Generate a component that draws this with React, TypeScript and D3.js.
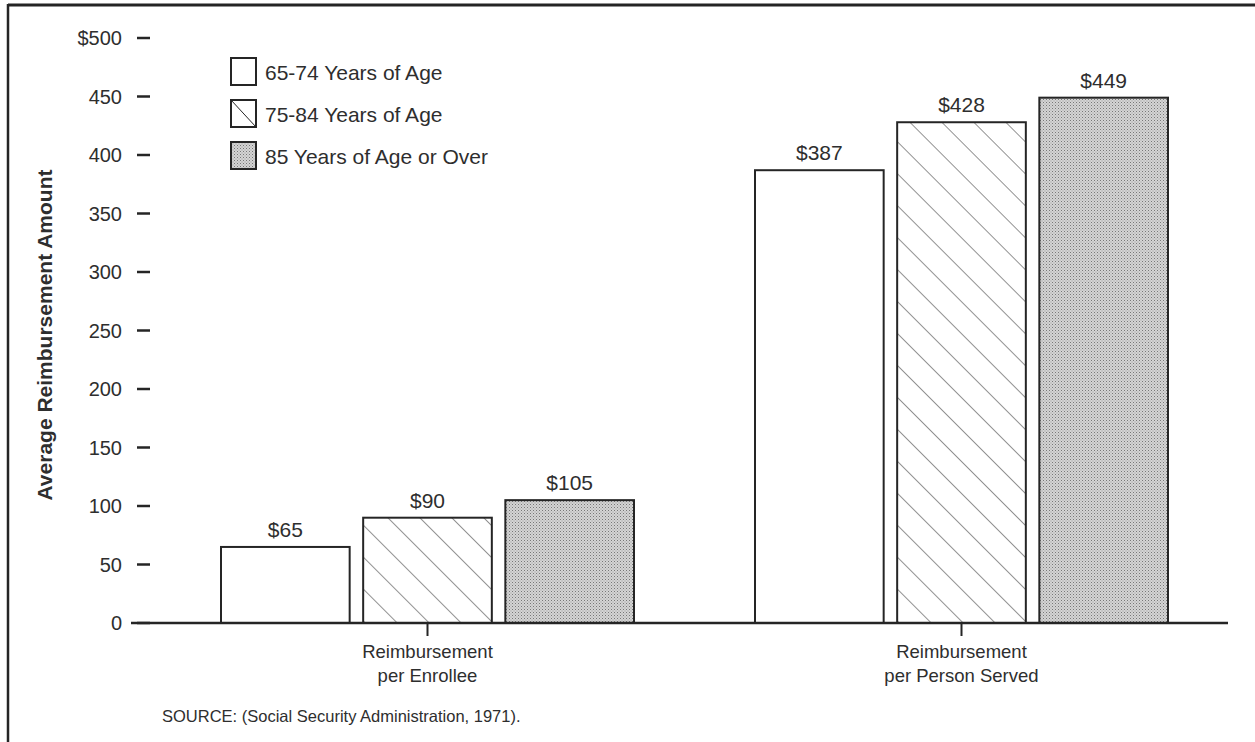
import React from 'react';
import * as d3 from 'd3';

const categories = ['Reimbursement\nper Enrollee', 'Reimbursement\nper Person Served'];
const series = ['65-74 Years of Age', '75-84 Years of Age', '85 Years of Age or Over'];
const age65to74 = [65, 387];
const age75to84 = [90, 428];
const age85plus = [105, 449];
const yTicks = [0, 50, 100, 150, 200, 250, 300, 350, 400, 450, 500];

const W = 1255;
const H = 742;
const ink = '#252525';
const txt = '#2e2e2e';
const font = 'Liberation Sans, Arial, Helvetica, sans-serif';

const fills = ['#fff', 'url(#hatch)', 'url(#stipple)'];

export default function App() {
  const y = d3.scaleLinear().domain([0, 500]).range([623, 38]);
  const x0 = d3.scaleBand<string>().domain(categories).range([160.5, 1228.5]).paddingInner(0.2266).paddingOuter(0.1133);
  const x1 = d3.scaleBand<string>().domain(series).range([0, x0.bandwidth()]).paddingInner(0.095);
  const values = [age65to74, age75to84, age85plus];

  return (
    <svg width={W} height={H} style={{ position: 'absolute', left: 0, top: 0, display: 'block', background: '#fff' }} fontFamily={font}>
      <defs>
        <pattern id="hatch" patternUnits="userSpaceOnUse" width={22.6} height={22.6} patternTransform="rotate(-45)">
          <line x1={0} y1={0} x2={0} y2={22.6} stroke={ink} strokeWidth={1} />
        </pattern>
        <pattern id="stipple" patternUnits="userSpaceOnUse" width={3} height={3}>
          <rect width={3} height={3} fill="#d4d4d4" />
          <rect x={0} y={0} width={1} height={1} fill="#777" />
          <rect x={1.5} y={1.5} width={1} height={1} fill="#999" />
        </pattern>
      </defs>

      {/* frame */}
      <line x1={8} y1={5} x2={W} y2={5} stroke={ink} strokeWidth={3} />
      <line x1={8} y1={4} x2={8} y2={H} stroke={ink} strokeWidth={2.5} />

      {/* y ticks */}
      {yTicks.map(t => (
        <g key={t}>
          <line x1={137} x2={150} y1={y(t)} y2={y(t)} stroke={ink} strokeWidth={2.5} />
          <text x={122} y={y(t)} dy="0.35em" textAnchor="end" fontSize={20} fill={txt}>
            {t === 500 ? '$500' : t}
          </text>
        </g>
      ))}

      <text transform={`translate(52,335) rotate(-90)`} textAnchor="middle" fontSize={21} fontWeight="bold" fill={txt}>
        Average Reimbursement Amount
      </text>

      {/* bars */}
      {categories.map((c, ci) => (
        <g key={c} transform={`translate(${x0(c)},0)`}>
          {series.map((s, si) => {
            const v = values[si][ci];
            const bx = x1(s)!;
            return (
              <g key={s}>
                <rect x={bx} y={y(v)} width={x1.bandwidth()} height={y(0) - y(v)} fill={fills[si]} stroke={ink} strokeWidth={2} />
                <text x={bx + x1.bandwidth() / 2} y={y(v) - 10} textAnchor="middle" fontSize={21} fill={txt}>
                  ${v}
                </text>
              </g>
            );
          })}
        </g>
      ))}

      {/* baseline */}
      <line x1={131} x2={1228} y1={y(0)} y2={y(0)} stroke={ink} strokeWidth={2.5} />

      {/* category ticks and labels */}
      {categories.map(c => {
        const cx = x0(c)! + x0.bandwidth() / 2;
        return (
          <g key={c}>
            <line x1={cx} x2={cx} y1={y(0)} y2={y(0) + 13} stroke={ink} strokeWidth={2} />
            {c.split('\n').map((line, i) => (
              <text key={i} x={cx} y={658 + i * 24} textAnchor="middle" fontSize={18.5} fill={txt}>
                {line}
              </text>
            ))}
          </g>
        );
      })}

      {/* legend */}
      {series.map((s, i) => (
        <g key={s} transform={`translate(231,${58 + i * 42})`}>
          <rect width={25} height={27} fill={i === 2 ? 'url(#stipple)' : '#fff'} stroke={ink} strokeWidth={2} />
          {i === 1 && <line x1={0} y1={0} x2={25} y2={27} stroke={ink} strokeWidth={1} />}
          <text x={34} y={22} fontSize={21} fill={txt}>
            {s}
          </text>
        </g>
      ))}

      <text x={162} y={722} fontSize={16.5} fill={txt}>
        SOURCE: (Social Security Administration, 1971).
      </text>
    </svg>
  );
}
